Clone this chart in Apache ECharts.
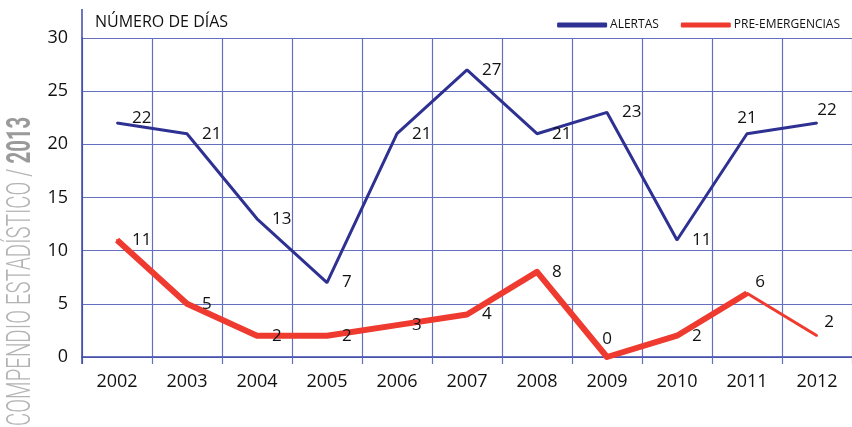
<!DOCTYPE html>
<html>
<head>
<meta charset="utf-8">
<script src="https://cdn.jsdelivr.net/npm/echarts@6/dist/echarts.min.js"></script>
<style>
  html, body { margin: 0; padding: 0; background: #fff; }
  #chart { width: 852px; height: 427px; }
</style>
</head>
<body>
<div id="chart"></div>
<script>
// Días con episodios de alerta y pre-emergencia por año
const years = ['2002', '2003', '2004', '2005', '2006', '2007', '2008', '2009', '2010', '2011', '2012'];
const alertas = [22, 21, 13, 7, 21, 27, 21, 23, 11, 21, 22];
const preEmergencias = [11, 5, 2, 2, 3, 4, 8, 0, 2, 6, 2];
const yTicks = { min: 0, max: 30, interval: 5 };

const BLUE = '#2e3192';
const RED = '#ee3a2f';
const GRID = '#6470bf';
const FONT = '"Open Sans", "Noto Sans", sans-serif';

// Label placement tweaks where the default (right of the point) would collide with the line
const alertLabelTweaks = { 0: { offset: [0, -5] }, 9: { position: 'top', distance: 6 }, 10: { position: 'top', distance: 3, offset: [10, 0] } };
const preLabelTweaks = { 7: { position: 'top', distance: 8 }, 9: { position: 'top', distance: 2, offset: [13, 0] }, 10: { position: 'top', distance: 4, offset: [12, 0] } };

const baseLabel = { show: true, position: 'right', distance: 14, color: '#111', fontSize: 17, fontFamily: FONT };

function withLabels(values, tweaks, keep) {
  return values.map((v, i) => {
    if (!keep(i)) return { value: null };
    const t = tweaks[i] || {};
    return { value: v, label: Object.assign({}, baseLabel, t) };
  });
}

// The last red segment is drawn thinner, so it is a separate series
const lastIdx = preEmergencias.length - 1;
const preMain = withLabels(preEmergencias, preLabelTweaks, i => i < lastIdx);
const preTail = preEmergencias.map((v, i) => {
  if (i < lastIdx - 1) return { value: null };
  if (i === lastIdx) return { value: v, label: Object.assign({}, baseLabel, preLabelTweaks[i] || {}) };
  return { value: v, label: { show: false } };
});

// tiny point markers in the line colour, hidden by the stroke, which carry the value labels
const pointMarks = { symbol: 'circle', symbolSize: 2, showSymbol: true, showAllSymbol: true };

const chart = echarts.init(document.getElementById('chart'), null, { renderer: 'canvas' });

chart.setOption({
  animation: false,
  backgroundColor: '#fff',
  textStyle: { fontFamily: FONT },
  title: {
    text: 'NÚMERO DE DÍAS',
    left: 90, top: 9,
    textStyle: { fontSize: 16, fontWeight: 'normal', color: '#111', fontFamily: FONT }
  },
  legend: {
    right: 7, top: 14,
    itemWidth: 50, itemHeight: 5, itemGap: 22,
    icon: 'roundRect',
    textStyle: { fontSize: 12, color: '#111', fontFamily: FONT, padding: [0, 0, 0, -2] },
    data: ['ALERTAS', 'PRE-EMERGENCIAS']
  },
  grid: { left: 82, right: 0, top: 38, bottom: 70, containLabel: false },
  xAxis: {
    type: 'category',
    data: years,
    boundaryGap: true,
    axisLine: { show: true, lineStyle: { color: '#3c48a8', width: 1.5 } },
    axisTick: { show: true, length: 7, lineStyle: { color: GRID, width: 1.2 } },
    axisLabel: { color: '#111', fontSize: 18, margin: 16, fontFamily: FONT },
    splitLine: { show: true, lineStyle: { color: GRID, width: 1.2 } }
  },
  yAxis: {
    type: 'value',
    min: yTicks.min, max: yTicks.max, interval: yTicks.interval,
    axisLine: { show: true, lineStyle: { color: '#3c48a8', width: 1.5 } },
    axisTick: { show: false },
    axisLabel: { color: '#111', fontSize: 18, margin: 14, fontFamily: FONT },
    splitLine: { show: true, lineStyle: { color: GRID, width: 1.2 } }
  },
  graphic: [
    // upward extension of the vertical axis past the top gridline
    { type: 'line', shape: { x1: 82, y1: 9, x2: 82, y2: 38 }, style: { stroke: '#3c48a8', lineWidth: 1.5 }, z: 5 },
    // bottom end of the vertical axis below the baseline
    { type: 'line', shape: { x1: 82, y1: 357, x2: 82, y2: 364 }, style: { stroke: '#3c48a8', lineWidth: 1.5 }, z: 5 },
    {
      type: 'text',
      x: 38, y: 426,
      rotation: Math.PI / 2,
      scaleX: 0.6,
      style: {
        text: '{a|COMPENDIO ESTADÍSTICO / }{b|2013}',
        rich: {
          a: { fontSize: 34, fontWeight: 300, fill: '#b3b3b3', fontFamily: 'Roboto, sans-serif' },
          b: { fontSize: 34, fontWeight: 'bold', fill: '#9a9a9a', fontFamily: 'Roboto, sans-serif' }
        },
        verticalAlign: 'bottom'
      }
    }
  ],
  series: [
    Object.assign({
      name: 'ALERTAS',
      type: 'line',
      data: withLabels(alertas, alertLabelTweaks, () => true),
      color: BLUE,
      itemStyle: { color: BLUE },
      lineStyle: { color: BLUE, width: 3 },
      z: 3
    }, pointMarks),
    Object.assign({
      name: 'PRE-EMERGENCIAS',
      type: 'line',
      data: preMain,
      color: RED,
      itemStyle: { color: RED },
      connectNulls: false,
      lineStyle: { color: RED, width: 6, join: 'round' },
      z: 4
    }, pointMarks),
    Object.assign({
      name: 'PRE-EMERGENCIAS (cola)',
      type: 'line',
      data: preTail,
      color: RED,
      itemStyle: { color: RED },
      lineStyle: { color: RED, width: 3 },
      z: 4
    }, pointMarks)
  ]
});
</script>
</body>
</html>
